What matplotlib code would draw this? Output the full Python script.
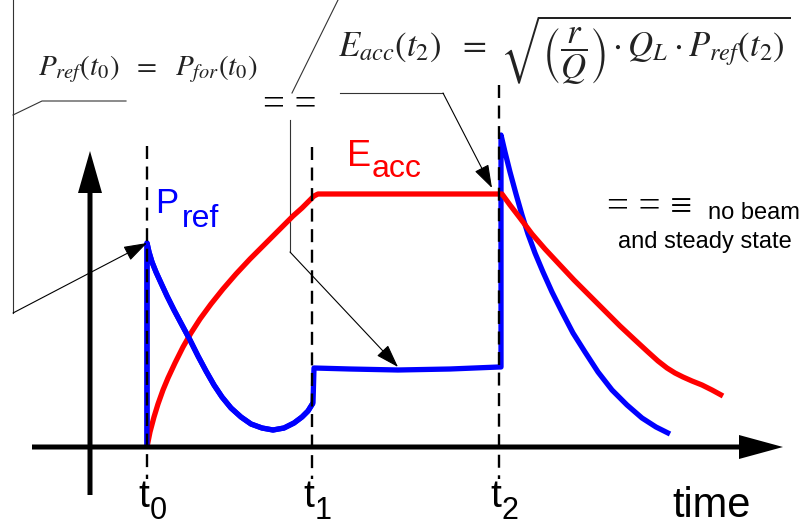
import matplotlib
matplotlib.use("Agg")
import matplotlib.pyplot as plt

plt.rcParams["mathtext.fontset"] = "stix"
SANS = ["Liberation Sans", "DejaVu Sans"]
SERIF = ["Liberation Serif", "DejaVu Serif"]

# switching instants on the time axis
t_marks = [57, 222, 409]
t_names = ["0", "1", "2"]

# accelerating field E_acc: filling, flat top, decay
eacc_t = [57, 60, 64, 68, 73, 78, 85, 93, 101, 110, 121, 133, 146, 160, 172,
          183, 193, 203, 212, 219, 224, 228, 232, 409, 412, 420, 430, 442,
          455, 469, 484, 500, 515, 530, 545, 558, 568, 577, 585, 593, 602,
          612, 622, 633]
eacc_v = [0, 15, 30, 43, 57, 69, 84, 100, 114, 128, 143, 158, 173, 188, 200,
          211, 221, 231, 239, 246, 251, 253, 253, 253, 253, 242, 229, 213,
          198, 183, 167, 151, 136, 121, 107, 95, 86, 79, 74, 70, 66, 62, 57,
          51]

# reflected power P_ref
pref_t = [57, 57, 59, 62, 66, 71, 77, 84, 92, 100, 108, 116, 124, 132, 141,
          151, 161, 172, 183, 194, 204, 212, 218, 223, 224, 260, 308, 360,
          409, 411, 411, 415, 420, 426, 432, 438, 445, 453, 462, 472, 483,
          495, 508, 522, 537, 552, 566, 580]
pref_v = [0, 204, 195, 185, 175, 164, 151, 137, 122, 107, 91, 76, 62, 50, 39,
          30, 23, 19, 17, 19, 24, 30, 36, 44, 79, 78, 77, 78, 80, 80, 312,
          295, 275, 253, 232, 213, 194, 175, 155, 135, 114, 95, 75, 57, 42,
          29, 20, 13]

# callout leader lines
lead_left = ([-77, -77], [447, 134])
lead_left_tick = ([-77, -48, 36], [332, 346, 346])
lead_left_arrow = ((-77, 134), (57, 204))
lead_mid_top = ([248, 202], [447, 354])
lead_mid_low = ([200, 200], [327, 195])
lead_mid_arrow = ((200, 195), (308, 80))
lead_right = ([250, 353], [354, 354])
lead_right_arrow = ((353, 354), (402, 259))

fig = plt.figure(figsize=(8.04, 5.28), dpi=100)
ax = fig.add_axes([0, 0, 1, 1])
ax.set_xlim(-90, 714)
ax.set_ylim(-81, 447)
ax.axis("off")

# coordinate axes with arrow heads
ax.arrow(-58, 0, 751, 0, width=5, head_width=24, head_length=44,
         length_includes_head=True, fc="k", ec="none", zorder=5)
ax.arrow(0, -48, 0, 344, width=5, head_width=24, head_length=42,
         length_includes_head=True, fc="k", ec="none", zorder=5)

# dashed markers for t0, t1, t2
tops = [301, 300, 362]
for t, top in zip(t_marks, tops):
    ax.plot([t, t], [top, -32], color="k", lw=1.7, dashes=(5.5, 3.2), zorder=6)

for t, n in zip(t_marks, t_names):
    ax.text(t + 2, -60, "t", ha="right", va="baseline", fontsize=28, family=SANS)
    ax.text(t + 3, -72, n, ha="left", va="baseline", fontsize=22, family=SANS)
ax.text(582, -70, "time", ha="left", va="baseline", fontsize=30, family=SANS)

# curves
line_kw = dict(lw=3.8, solid_joinstyle="round", solid_capstyle="butt")
ax.plot(pref_t, pref_v, color="#0000ff", zorder=2, **line_kw)
ax.plot(eacc_t, eacc_v, color="#ff0000", zorder=3, **line_kw)
n_first = pref_t.index(224)
ax.plot(pref_t[:n_first], pref_v[:n_first], color="#0000ff", zorder=4, **line_kw)

# curve labels
ax.text(257, 281, "E", color="#ff0000", fontsize=26, va="baseline", family=SANS)
ax.text(282, 270, "acc", color="#ff0000", fontsize=23, va="baseline", family=SANS)
ax.text(65, 234, "P", color="#0000ff", fontsize=25, va="baseline", family=SANS)
ax.text(92, 220, "ref", color="#0000ff", fontsize=23, va="baseline", family=SANS)

# leader lines and arrows
lc = "#333333"
ax.plot(*lead_left, color=lc, lw=0.8)
ax.plot(*lead_left_tick, color=lc, lw=0.8)
ax.plot(*lead_mid_top, color=lc, lw=0.8)
ax.plot(*lead_mid_low, color=lc, lw=0.8)
ax.plot(*lead_right, color=lc, lw=0.8)
arrow_kw = dict(arrowstyle="-|>,head_length=1.45,head_width=0.48", color="k",
                lw=0.8, shrinkA=0, shrinkB=0, mutation_scale=10)
for start, tip in (lead_left_arrow, lead_mid_arrow, lead_right_arrow):
    ax.annotate("", xy=tip, xytext=start, arrowprops=arrow_kw, zorder=7)

# formulas
ax.text(-52, 372, r"$P_{ref}(t_0)\ \ =\ \ P_{for}(t_0)$", fontsize=21,
        va="baseline", color="#222222")
ax.text(248, 391,
        r"$E_{acc}(t_2)\ \ =\ \sqrt{\left(\dfrac{r}{Q}\right)\cdot Q_L\cdot P_{ref}(t_2)}$",
        fontsize=25, va="baseline", color="#222222")
ax.text(200, 340, "= =", ha="center", va="center", fontsize=28, family=SERIF)

# steady-state note
ax.text(517, 239, "= = \u2261", ha="left", va="center", fontsize=28, family=SERIF)
ax.text(618, 228, "no beam", ha="left", va="baseline", fontsize=17, family=SANS)
ax.text(528, 199, "and steady state", ha="left", va="baseline", fontsize=17, family=SANS)

fig.savefig("out.png", dpi=100)
